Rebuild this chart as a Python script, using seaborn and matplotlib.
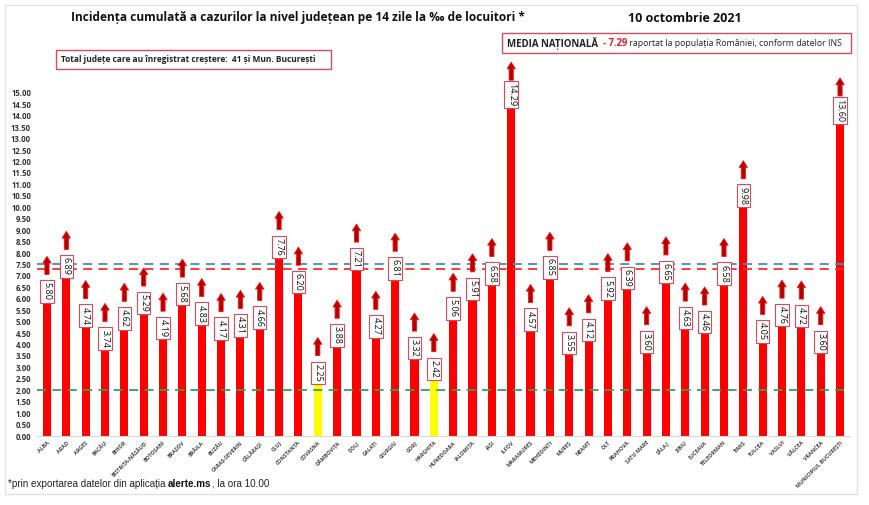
import matplotlib
matplotlib.use("Agg")
import matplotlib.pyplot as plt
import seaborn as sns
import pandas as pd
import numpy as np
from matplotlib.patches import Rectangle

counties = ["ALBA", "ARAD", "ARGEȘ", "BACĂU", "BIHOR", "BISTRIȚA-NĂSĂUD", "BOTOȘANI",
            "BRAȘOV", "BRĂILA", "BUZĂU", "CARAȘ-SEVERIN", "CĂLĂRAȘI", "CLUJ", "CONSTANȚA",
            "COVASNA", "DÂMBOVIȚA", "DOLJ", "GALAȚI", "GIURGIU", "GORJ", "HARGHITA",
            "HUNEDOARA", "IALOMIȚA", "IAȘI", "ILFOV", "MARAMUREȘ", "MEHEDINȚI", "MUREȘ",
            "NEAMȚ", "OLT", "PRAHOVA", "SATU MARE", "SĂLAJ", "SIBIU", "SUCEAVA",
            "TELEORMAN", "TIMIȘ", "TULCEA", "VASLUI", "VÂLCEA", "VRANCEA",
            "MUNICIPIUL BUCUREȘTI"]
values = [5.80, 6.89, 4.74, 3.74, 4.62, 5.29, 4.19, 5.68, 4.83, 4.17, 4.31, 4.66, 7.76,
          6.20, 2.25, 3.88, 7.21, 4.27, 6.81, 3.32, 2.42, 5.06, 5.91, 6.58, 14.29, 4.57,
          6.85, 3.55, 4.12, 5.92, 6.39, 3.60, 6.65, 4.63, 4.46, 6.58, 9.98, 4.05, 4.76,
          4.72, 3.60, 13.60]
yellow_counties = ["COVASNA", "HARGHITA"]
national_avg = 7.29
upper_line = 7.50
lower_line = 2.00
ytick_values = np.arange(0, 15.01, 0.5)

title = "Incidența cumulată a cazurilor la nivel județean pe 14 zile la ‰ de locuitori *"
date_text = "10 octombrie 2021"
box1_text = "Total județe care au înregistrat creștere:  41 și Mun. București"

sns.set_theme(style="white")
plt.rcParams["font.family"] = ["Open Sans", "DejaVu Sans"]

W, H = 870, 505
fig = plt.figure(figsize=(W / 100, H / 100), dpi=100)
fig.patch.set_facecolor("white")


def fx(px):
    return px / W


def fy(py):
    return 1 - py / H


ax_left, ax_right, ax_bottom, ax_top = 37.3, 849.7, 436, 50
ax = fig.add_axes([fx(ax_left), fy(ax_bottom), fx(ax_right) - fx(ax_left), fy(ax_top) - fy(ax_bottom)])

df = pd.DataFrame({"county": counties, "value": values})
palette = {c: ("#ffff00" if c in yellow_counties else "#ff0000") for c in counties}
sns.barplot(data=df, x="county", y="value", hue="county", palette=palette, legend=False,
            width=0.42, saturation=1, linewidth=0, ax=ax)

px_per_unit = 22.87
ymax = (ax_bottom - ax_top) / px_per_unit
ax.set_xlim(-0.5, len(counties) - 0.5)
ax.set_ylim(0, ymax)
k = 1 / px_per_unit

for ln_val, col in [(upper_line, "#3f8fc0"), (national_avg, "#ff2a2a"), (lower_line, "#2fa060")]:
    ax.axhline(ln_val, color=col, lw=1.3, dashes=(5, 3.5), zorder=1)

for i, v in enumerate(values):
    ax.text(i, v + 3 * k, f"{v:.2f}", rotation=270, ha="center", va="bottom",
            fontsize=6.5, color="#111111", zorder=5,
            bbox=dict(boxstyle="square,pad=0.25", fc="white", ec="#d94a5a", lw=0.8))
    ax.annotate("", xy=(i, v + 47 * k), xytext=(i, v + 29 * k),
                arrowprops=dict(arrowstyle="simple,head_length=0.4,head_width=0.5,tail_width=0.25",
                                fc="#b00000", ec="#ff1010", lw=0.6, mutation_scale=12,
                                shrinkA=0, shrinkB=0), zorder=5)

ax.set_yticks(ytick_values)
ax.set_yticklabels([f"{t:.2f}" for t in ytick_values], fontsize=5.6, fontweight="bold", color="#333333")
ax.set_xticks(range(len(counties)))
ax.set_xticklabels(counties, rotation=45, ha="right", rotation_mode="anchor",
                   fontsize=3.9, fontweight="bold", color="#444444")
ax.tick_params(axis="both", length=0)
ax.tick_params(axis="y", pad=4.5)
ax.tick_params(axis="x", pad=3)
ax.set_xlabel("")
ax.set_ylabel("")
for s in ["left", "top", "right"]:
    ax.spines[s].set_visible(False)
ax.spines["bottom"].set_color("#d8d8d8")
ax.spines["bottom"].set_linewidth(0.8)

# outer frame
fig.add_artist(Rectangle((fx(5), fy(494)), fx(857) - fx(5), fy(5) - fy(494), transform=fig.transFigure,
                         fill=False, ec="#e2e2e2", lw=1))

fig.text(fx(298), fy(18), title, ha="center", va="center", fontsize=8.6, fontweight="bold", color="#111111")
fig.text(fx(685), fy(18), date_text, ha="center", va="center", fontsize=9.0, fontweight="bold", color="#111111")

# box 1
fig.add_artist(Rectangle((fx(56), fy(69)), fx(331) - fx(56), fy(50) - fy(69), transform=fig.transFigure,
                         fill=True, fc="white", ec="#d94a5a", lw=1))
fig.text(fx(61), fy(59.5), box1_text, ha="left", va="center", fontsize=6.0, fontweight="bold", color="#222222")

# box 2
fig.add_artist(Rectangle((fx(502), fy(53)), fx(851) - fx(502), fy(33) - fy(53), transform=fig.transFigure,
                         fill=True, fc="white", ec="#d94a5a", lw=1))

renderer = fig.canvas.get_renderer()


def place_seq(x_px, y_px, parts):
    x = x_px
    for s, kw in parts:
        t = fig.text(fx(x), fy(y_px), s, ha="left", va="center", **kw)
        bb = t.get_window_extent(renderer)
        x += bb.width


place_seq(507, 43, [
    ("MEDIA NAȚIONALĂ  ", dict(fontsize=6.9, fontweight="bold", color="#222222")),
    (f"- {national_avg:.2f}", dict(fontsize=6.9, fontweight="bold", color="#e0202a")),
    (" raportat la populația României, conform datelor INS", dict(fontsize=6.3, color="#222222")),
])

place_seq(8, 484, [
    ("*prin exportarea datelor din aplicația ", dict(fontsize=7.15, color="#222222", family=["Liberation Sans"])),
    ("alerte.ms", dict(fontsize=7.15, color="#111111", fontweight="bold", family=["Liberation Sans"])),
    (", la ora 10.00", dict(fontsize=7.15, color="#222222", family=["Liberation Sans"])),
])

fig.savefig("out.png", dpi=100, facecolor="white")
